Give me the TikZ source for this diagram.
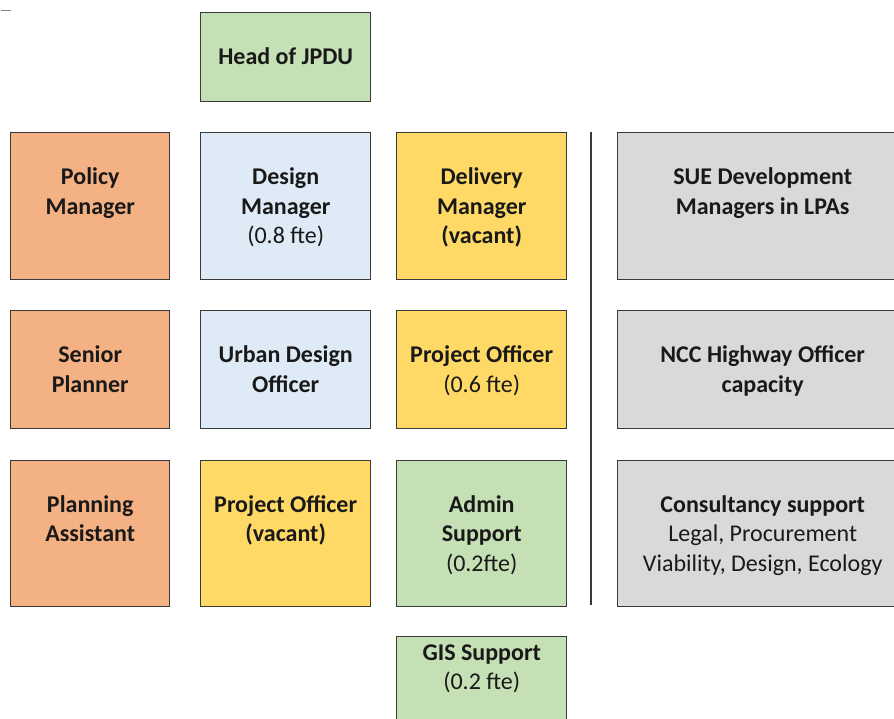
\documentclass[tikz,border=0pt]{standalone}
\usepackage{fontspec}
\setmainfont{Carlito}
\usetikzlibrary{positioning}
\definecolor{corange}{HTML}{F4B183}
\definecolor{cblue}{HTML}{DEEBF7}
\definecolor{cyellow}{HTML}{FFD966}
\definecolor{cgreen}{HTML}{C5E0B4}
\definecolor{cgray}{HTML}{D9D9D9}
\definecolor{cborder}{HTML}{3A3A3A}
\begin{document}
\begin{tikzpicture}[x=1pt,y=-1pt,
  box/.style={draw=cborder, line width=1.4pt, rectangle, inner sep=0pt, anchor=north west},
  txt/.style={inner sep=0pt, align=center, anchor=north, text=black!90,
    font=\fontsize{24}{29.5}\selectfont\bfseries},
  lite/.style={}]
\useasboundingbox (0,0) rectangle (894,718);
\newcommand{\rg}[1]{\mdseries #1}
% tiny dash top-left
\coordinate (d1) at (1,10);
\coordinate (d2) at (11,10);
\draw[gray, line width=1pt] (d1) -- (d2);
% head
\node[box, fill=cgreen, minimum width=170pt, minimum height=89pt] (head) at (200,12) {};
\node[txt, below=31.5pt of head.north] (thead) {\strut Head of JPDU};
% row 1
\node[box, fill=corange, minimum width=159pt, minimum height=147pt] (pm) at (10,132) {};
\node[txt, below=32pt of pm.north] (tpm) {\strut Policy\\Manager};
\node[box, fill=cblue, minimum width=170pt, minimum height=147pt] (dm) at (200,132) {};
\node[txt, below=32pt of dm.north] (tdm) {\strut Design\\Manager\\\rg{(0.8 fte)}};
\node[box, fill=cyellow, minimum width=170pt, minimum height=147pt] (delm) at (396,132) {};
\node[txt, below=32pt of delm.north] (tdelm) {\strut Delivery\\Manager\\(vacant)};
\node[box, fill=cgray, minimum width=290pt, minimum height=147pt] (sue) at (617,132) {};
\node[txt, below=32pt of sue.north] (tsue) {\strut SUE Development\\Managers in LPAs};
% row 2
\node[box, fill=corange, minimum width=159pt, minimum height=118pt] (sp) at (10,310) {};
\node[txt, below=32pt of sp.north] (tsp) {\strut Senior\\Planner};
\node[box, fill=cblue, minimum width=170pt, minimum height=118pt] (udo) at (200,310) {};
\node[txt, below=32pt of udo.north] (tudo) {\strut Urban Design\\Officer};
\node[box, fill=cyellow, minimum width=170pt, minimum height=118pt] (po1) at (396,310) {};
\node[txt, below=32pt of po1.north] (tpo1) {\strut Project Officer\\\rg{(0.6 fte)}};
\node[box, fill=cgray, minimum width=290pt, minimum height=118pt] (ncc) at (617,310) {};
\node[txt, below=32pt of ncc.north] (tncc) {\strut NCC Highway Officer\\capacity};
% row 3
\node[box, fill=corange, minimum width=159pt, minimum height=146pt] (pa) at (10,460) {};
\node[txt, below=31.5pt of pa.north] (tpa) {\strut Planning\\Assistant};
\node[box, fill=cyellow, minimum width=170pt, minimum height=146pt] (po2) at (200,460) {};
\node[txt, below=31.5pt of po2.north] (tpo2) {\strut Project Officer\\(vacant)};
\node[box, fill=cgreen, minimum width=170pt, minimum height=146pt] (adm) at (396,460) {};
\node[txt, below=31.5pt of adm.north] (tadm) {\strut Admin\\Support\\\rg{(0.2fte)}};
\node[box, fill=cgray, minimum width=290pt, minimum height=146pt] (cons) at (617,460) {};
\node[txt, below=31.5pt of cons.north] (tcons) {\strut Consultancy support\\\rg{Legal, Procurement}\\\rg{Viability, Design, Ecology}};
% GIS
\node[box, fill=cgreen, minimum width=170pt, minimum height=95pt] (gis) at (396,636) {};
\node[txt, below=3.5pt of gis.north] (tgis) {\strut GIS Support\\\rg{(0.2 fte)}};
% divider
\coordinate (v1) at (591,132);
\coordinate (v2) at (591,605);
\draw[cborder, line width=1.4pt] (v1) -- (v2);
\end{tikzpicture}
\end{document}
